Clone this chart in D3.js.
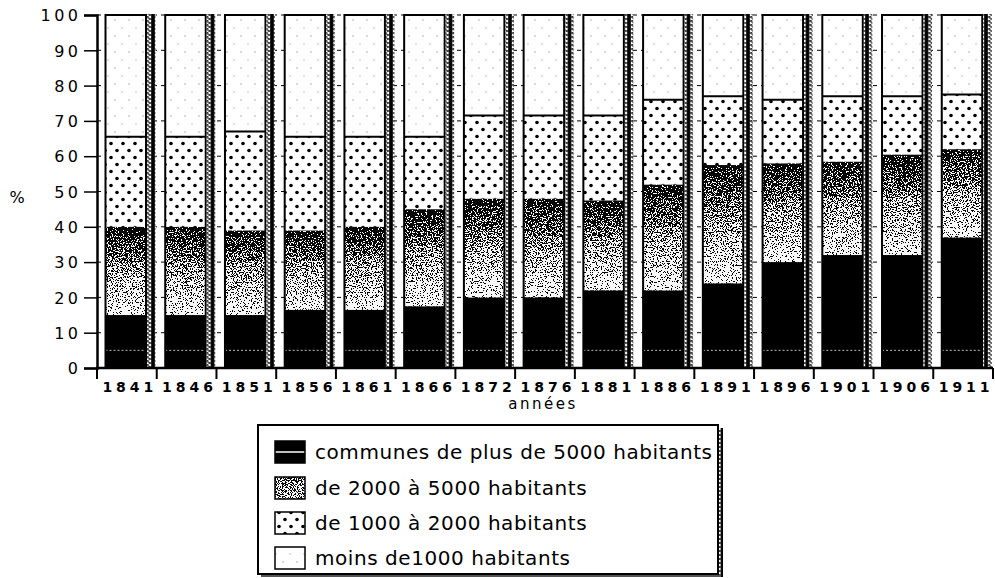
<!DOCTYPE html>
<html>
<head>
<meta charset="utf-8">
<script src="https://cdn.jsdelivr.net/npm/d3@7"></script>
<style>
  html, body { margin: 0; padding: 0; background: #fff; }
  svg { display: block; }
  text { font-family: "DejaVu Sans", Verdana, sans-serif; fill: #000; }
</style>
</head>
<body>
<svg id="chart" width="995" height="578"></svg>
<script>
// ---------- DATA ----------
const years = ["1841","1846","1851","1856","1861","1866","1872","1876","1881","1886","1891","1896","1901","1906","1911"];
const plus5000   = [15, 15, 15, 16.5, 16.5, 17.5, 20, 20, 22, 22, 24, 30, 32, 32, 37];
const de2000a5000 = [25, 25, 24, 22.5, 23.5, 27.5, 28, 28, 25.5, 30, 33.5, 28, 26.5, 28.5, 25];
const de1000a2000 = [25.5, 25.5, 28, 26.5, 25.5, 20.5, 23.5, 23.5, 24, 24, 19.5, 18, 18.5, 16.5, 15.5];
const moins1000  = [34.5, 34.5, 33, 34.5, 34.5, 34.5, 28.5, 28.5, 28.5, 24, 23, 24, 23, 23, 22.5];
const seriesKeys = ["plus5000", "de2000a5000", "de1000a2000", "moins1000"];
const seriesLabels = ["communes de plus de 5000 habitants", "de 2000 à 5000 habitants", "de 1000 à 2000 habitants", "moins de1000 habitants"];
const yTicks = [0, 10, 20, 30, 40, 50, 60, 70, 80, 90, 100];
const yTitle = "%";
const xTitle = "années";

// ---------- SETUP ----------
const svg = d3.select("#chart");
const defs = svg.append("defs");

const table = years.map((yr, i) => ({
  year: yr,
  plus5000: plus5000[i],
  de2000a5000: de2000a5000[i],
  de1000a2000: de1000a2000[i],
  moins1000: moins1000[i]
}));
const stacked = d3.stack().keys(seriesKeys)(table);

const x = d3.scaleBand().domain(years).range([97, 993]).paddingInner(0).paddingOuter(0);
const y = d3.scaleLinear().domain([0, 100]).range([368, 15]);
const bw = x.bandwidth();
const barOff = 8.5, barW = 40.5, stripOff = 50, stripW = 8.5;

// ---------- PATTERNS / FILTERS ----------
const f = defs.append("filter").attr("id", "dither")
  .attr("x", 0).attr("y", 0).attr("width", 1).attr("height", 1)
  .attr("color-interpolation-filters", "sRGB");
f.append("feTurbulence").attr("type", "fractalNoise").attr("baseFrequency", 0.8)
  .attr("numOctaves", 2).attr("seed", 7).attr("result", "n");
f.append("feColorMatrix").attr("in", "n").attr("type", "matrix")
  .attr("values", "1 0 0 0 0  1 0 0 0 0  1 0 0 0 0  0 0 0 0 1").attr("result", "g0");
const ct0 = f.append("feComponentTransfer").attr("in", "g0").attr("result", "gn");
["feFuncR","feFuncG","feFuncB"].forEach(fn => ct0.append(fn).attr("type","linear").attr("slope",3).attr("intercept",-1));
f.append("feComposite").attr("in", "SourceGraphic").attr("in2", "gn").attr("operator", "arithmetic")
  .attr("k1", 0).attr("k2", 1).attr("k3", 1).attr("k4", -0.5).attr("result", "sum");
const ct = f.append("feComponentTransfer").attr("in", "sum").attr("result", "th");
["feFuncR","feFuncG","feFuncB"].forEach(fn => ct.append(fn).attr("type","discrete").attr("tableValues","0.03 0.97"));
ct.append("feFuncA").attr("type","linear").attr("slope",0).attr("intercept",1);
f.append("feComposite").attr("in", "th").attr("in2", "SourceGraphic").attr("operator", "in");

const lg = defs.append("linearGradient").attr("id", "gradMid")
  .attr("x1", 0).attr("y1", 0).attr("x2", 0).attr("y2", 1);
lg.append("stop").attr("offset", 0).attr("stop-color", "#050505");
lg.append("stop").attr("offset", 0.08).attr("stop-color", "#2a2a2a");
lg.append("stop").attr("offset", 0.45).attr("stop-color", "#8a8a8a");
lg.append("stop").attr("offset", 1).attr("stop-color", "#e6e6e6");

const lg2 = defs.append("linearGradient").attr("id", "gradLeg")
  .attr("x1", 0).attr("y1", 0).attr("x2", 0).attr("y2", 1);
lg2.append("stop").attr("offset", 0).attr("stop-color", "#777");
lg2.append("stop").attr("offset", 1).attr("stop-color", "#999");

const pDot = defs.append("pattern").attr("id", "dots").attr("patternUnits", "userSpaceOnUse")
  .attr("width", 12).attr("height", 14);
pDot.append("rect").attr("width", 12).attr("height", 14).attr("fill", "#fff");
pDot.append("circle").attr("cx", 3).attr("cy", 3.5).attr("r", 1.8).attr("fill", "#000");
pDot.append("circle").attr("cx", 9).attr("cy", 10.5).attr("r", 1.8).attr("fill", "#000");

const pSp = defs.append("pattern").attr("id", "sparse").attr("patternUnits", "userSpaceOnUse")
  .attr("width", 14).attr("height", 16);
pSp.append("rect").attr("width", 14).attr("height", 16).attr("fill", "#fff");
pSp.append("circle").attr("cx", 3).attr("cy", 4).attr("r", 0.7).attr("fill", "#999");
pSp.append("circle").attr("cx", 10).attr("cy", 12).attr("r", 0.7).attr("fill", "#aaa");

const pSt = defs.append("pattern").attr("id", "strip").attr("patternUnits", "userSpaceOnUse")
  .attr("width", 8.5).attr("height", 4);
pSt.append("rect").attr("width", 8.5).attr("height", 4).attr("fill", "#fff");
pSt.append("rect").attr("x", 0).attr("width", 1.8).attr("height", 4).attr("fill", "#000");
pSt.append("rect").attr("x", 6.7).attr("width", 1.8).attr("height", 4).attr("fill", "#000");
pSt.append("rect").attr("x", 2.2).attr("y", 0).attr("width", 2).attr("height", 2).attr("fill", "#222");
pSt.append("rect").attr("x", 4.4).attr("y", 2).attr("width", 2).attr("height", 2).attr("fill", "#333");
pSt.append("rect").attr("x", 3.2).attr("y", 1).attr("width", 1.6).attr("height", 2).attr("fill", "#666");

const fills = {
  plus5000: "#000",
  de2000a5000: "url(#gradMid)",
  de1000a2000: "url(#dots)",
  moins1000: "url(#sparse)"
};

// ---------- GRIDLINES ----------
svg.append("g").selectAll("line").data(yTicks.filter(d => d > 0)).join("line")
  .attr("x1", 97).attr("x2", 993)
  .attr("y1", d => y(d)).attr("y2", d => y(d))
  .attr("stroke", "#000").attr("stroke-width", 1).attr("stroke-dasharray", "4,4");

// ---------- BARS ----------
const layers = svg.append("g");
stacked.forEach(s => {
  layers.append("g").selectAll("rect").data(s).join("rect")
    .attr("x", d => x(d.data.year) + barOff)
    .attr("width", barW)
    .attr("y", d => y(d[1]))
    .attr("height", d => y(d[0]) - y(d[1]))
    .attr("fill", fills[s.key])
    .attr("filter", s.key === "de2000a5000" ? "url(#dither)" : null);
});
svg.append("g").selectAll("line").data(years).join("line")
  .attr("x1", d => x(d) + barOff).attr("x2", d => x(d) + barOff + barW)
  .attr("y1", y(5)).attr("y2", y(5))
  .attr("stroke", "#bbb").attr("stroke-width", 1).attr("stroke-dasharray", "2,2");
svg.append("g").selectAll("line").data(stacked[2]).join("line")
  .attr("x1", d => x(d.data.year) + barOff).attr("x2", d => x(d.data.year) + barOff + barW)
  .attr("y1", d => y(d[1])).attr("y2", d => y(d[1]))
  .attr("stroke", "#000").attr("stroke-width", 2);
svg.append("g").selectAll("rect").data(years).join("rect")
  .attr("x", d => x(d) + barOff).attr("width", barW)
  .attr("y", y(100)).attr("height", y(0) - y(100))
  .attr("fill", "none").attr("stroke", "#000").attr("stroke-width", 2);
svg.append("g").selectAll("rect").data(years).join("rect")
  .attr("x", d => x(d) + stripOff).attr("width", stripW)
  .attr("y", y(100) - 1).attr("height", y(0) - y(100) + 1)
  .attr("fill", "url(#strip)");

// ---------- AXES ----------
const yAxis = svg.append("g").attr("transform", "translate(97,0)")
  .call(d3.axisLeft(y).tickValues(yTicks).tickSize(13).tickPadding(6).tickFormat(d3.format("d")));
yAxis.select(".domain").attr("stroke", "#000").attr("stroke-width", 2.5);
yAxis.selectAll(".tick line").attr("stroke", "#000").attr("stroke-width", 1.5);
yAxis.selectAll(".tick text")
  .style("font-family", "'DejaVu Sans', Verdana, sans-serif")
  .style("font-size", "16px").style("letter-spacing", "3.5px")
  .attr("dx", "3.5px").attr("dy", "0.36em");

svg.append("line").attr("x1", 96).attr("x2", 993).attr("y1", y(0)).attr("y2", y(0))
  .attr("stroke", "#000").attr("stroke-width", 2.5);
const bounds = years.map(d => x(d)).concat([x(years[years.length - 1]) + bw]);
svg.append("g").selectAll("line").data(bounds).join("line")
  .attr("x1", d => d).attr("x2", d => d)
  .attr("y1", y(0)).attr("y2", y(0) + 11)
  .attr("stroke", "#000").attr("stroke-width", 2);
svg.append("g").selectAll("text").data(years).join("text")
  .attr("x", d => x(d) + bw / 2 + 3)
  .attr("y", 392)
  .attr("text-anchor", "middle")
  .style("font-size", "14px").style("font-weight", "bold").style("letter-spacing", "4px")
  .text(d => d);

svg.append("text").attr("x", 17).attr("y", 203).attr("text-anchor", "middle")
  .style("font-size", "16px").text(yTitle);
svg.append("text").attr("x", 543).attr("y", 409).attr("text-anchor", "middle")
  .style("font-size", "15px").style("letter-spacing", "2.5px").text(xTitle);

// ---------- LEGEND ----------
const lgX = 258, lgY = 425, lgW = 460, lgH = 149;
svg.append("rect").attr("x", lgX + lgW).attr("y", lgY + 3).attr("width", 5).attr("height", lgH)
  .attr("fill", "url(#strip)");
svg.append("rect").attr("x", lgX + 3).attr("y", lgY + lgH).attr("width", lgW).attr("height", 3)
  .attr("fill", "#555");
svg.append("rect").attr("x", lgX).attr("y", lgY).attr("width", lgW).attr("height", lgH)
  .attr("fill", "#fff").attr("stroke", "#000").attr("stroke-width", 2);

const rowsY = [452, 488, 523, 558];
const leg = svg.append("g").selectAll("g").data(seriesKeys).join("g")
  .attr("transform", (d, i) => `translate(0,${rowsY[i]})`);
leg.append("rect").attr("x", 275).attr("y", -11).attr("width", 30).attr("height", 22)
  .attr("fill", d => d === "de2000a5000" ? "url(#gradLeg)" : fills[d])
  .attr("filter", d => d === "de2000a5000" ? "url(#dither)" : null);
leg.filter(d => d === "plus5000").append("line")
  .attr("x1", 275).attr("x2", 305).attr("y1", 0).attr("y2", 0)
  .attr("stroke", "#fff").attr("stroke-width", 1.5);
leg.append("rect").attr("x", 275).attr("y", -11).attr("width", 30).attr("height", 22)
  .attr("fill", "none").attr("stroke", "#000").attr("stroke-width", 1.5);
const lt = leg.append("text").attr("x", 315).attr("y", 0).attr("dy", "0.36em")
  .style("font-size", "20px")
  .text((d, i) => seriesLabels[i]);
const w0 = lt.nodes()[0].getComputedTextLength();
const n0 = seriesLabels[0].length;
const ls = Math.max(0, (397 - w0) / (n0 - 1));
lt.style("letter-spacing", ls + "px");
</script>
</body>
</html>
